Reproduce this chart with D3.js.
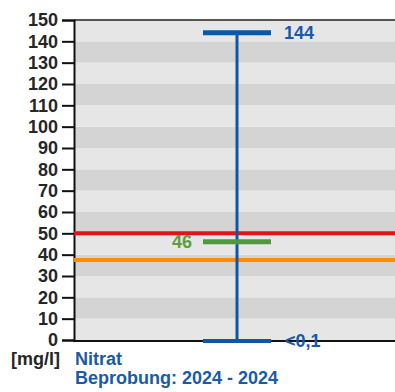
<!DOCTYPE html>
<html>
<head>
<meta charset="utf-8">
<script src="https://cdn.jsdelivr.net/npm/d3@7"></script>
<style>
  html, body { margin: 0; padding: 0; background: #fff; }
  svg { display: block; font-family: "Liberation Sans", Arial, sans-serif; font-weight: bold; }
</style>
</head>
<body>
<svg id="chart" width="395" height="392"></svg>
<script>
// Measurement: Nitrat, sampling period 2024
const categories = ["Nitrat"];
const maxValues = [144];
const maxLabels = ["144"];
const minValues = [0];
const minLabels = ["<0,1"];
const meanValues = [46];
const meanLabels = ["46"];
const limitValue = 50;      // Grenzwert
const warnValue = 37.5;     // Schwellenwert
const yTicks = d3.range(0, 151, 10);
const unitLabel = "[mg/l]";
const periodLabel = "Beprobung: 2024 - 2024";

const svg = d3.select("#chart");
const plotLeft = 74, plotRight = 400, plotTop = 20, plotBottom = 340;

const y = d3.scaleLinear().domain([0, 150]).range([plotBottom, plotTop]);
const x = d3.scaleBand().domain(categories).range([plotLeft, plotRight]);
const capW = 68;

const blue = "#0b59a6";
const textDark = "#262626";

// alternating background bands, 10 units each
const bands = d3.range(0, 150, 10);
svg.append("g").selectAll("rect").data(bands).join("rect")
  .attr("x", plotLeft)
  .attr("width", plotRight - plotLeft)
  .attr("y", d => y(d + 10))
  .attr("height", d => y(d) - y(d + 10))
  .attr("fill", d => ((150 - d) / 10 - 1) % 2 === 0 ? "#e6e6e6" : "#d4d4d4");

// top frame line
svg.append("line")
  .attr("x1", plotLeft).attr("x2", plotRight)
  .attr("y1", y(150)).attr("y2", y(150))
  .attr("stroke", "#555").attr("stroke-width", 2);

// y axis
const yAxis = d3.axisLeft(y).tickValues(yTicks).tickSize(12).tickPadding(4).tickFormat(d3.format("d"));
const gy = svg.append("g").attr("transform", `translate(${plotLeft},0)`).call(yAxis);
gy.select(".domain").attr("stroke", "#111").attr("stroke-width", 2);
gy.selectAll(".tick line").attr("stroke", "#111").attr("stroke-width", 2);
gy.selectAll(".tick text")
  .attr("fill", textDark)
  .style("font-size", "18px")
  .style("font-weight", "bold")
  .style("font-family", "'Liberation Sans', Arial, sans-serif");

// threshold lines
svg.append("line")
  .attr("x1", plotLeft).attr("x2", plotRight)
  .attr("y1", y(limitValue)).attr("y2", y(limitValue))
  .attr("stroke", "#e5121b").attr("stroke-width", 4);
svg.append("line")
  .attr("x1", plotLeft).attr("x2", plotRight)
  .attr("y1", y(warnValue)).attr("y2", y(warnValue))
  .attr("stroke", "#ff8c00").attr("stroke-width", 4);

// bottom axis line
svg.append("line")
  .attr("x1", plotLeft - 1).attr("x2", plotRight)
  .attr("y1", y(0) + 1).attr("y2", y(0) + 1)
  .attr("stroke", "#111").attr("stroke-width", 2);

// range whisker: min to max, with mean marker
const g = svg.append("g");
categories.forEach((c, i) => {
  const cx = x(c) + x.bandwidth() / 2;
  g.append("line")
    .attr("x1", cx).attr("x2", cx)
    .attr("y1", y(maxValues[i])).attr("y2", y(minValues[i]))
    .attr("stroke", blue).attr("stroke-width", 3);
  g.append("line")
    .attr("x1", cx - capW / 2).attr("x2", cx + capW / 2)
    .attr("y1", y(maxValues[i])).attr("y2", y(maxValues[i]))
    .attr("stroke", blue).attr("stroke-width", 5);
  g.append("line")
    .attr("x1", cx - capW / 2).attr("x2", cx + capW / 2)
    .attr("y1", y(minValues[i]) + 1).attr("y2", y(minValues[i]) + 1)
    .attr("stroke", blue).attr("stroke-width", 4);
  g.append("line")
    .attr("x1", cx - capW / 2).attr("x2", cx + capW / 2)
    .attr("y1", y(meanValues[i])).attr("y2", y(meanValues[i]))
    .attr("stroke", "#4c9a3c").attr("stroke-width", 5);

  g.append("text")
    .attr("x", cx + capW / 2 + 13).attr("y", y(maxValues[i])).attr("dy", "0.35em")
    .attr("fill", "#1a5aa6").style("font-size", "18px")
    .text(maxLabels[i]);
  g.append("text")
    .attr("x", cx + capW / 2 + 14).attr("y", y(minValues[i]) + 1).attr("dy", "0.35em")
    .attr("fill", "#1a5aa6").style("font-size", "18px")
    .text(minLabels[i]);
  g.append("text")
    .attr("x", cx - capW / 2 - 11).attr("y", y(meanValues[i])).attr("dy", "0.35em")
    .attr("text-anchor", "end")
    .attr("fill", "#5f9e3e").style("font-size", "18px")
    .text(meanLabels[i]);
});

// captions
svg.append("text")
  .attr("x", 60).attr("y", 365).attr("text-anchor", "end")
  .attr("fill", textDark).style("font-size", "18px")
  .text(unitLabel);
svg.append("text")
  .attr("x", 75).attr("y", 365)
  .attr("fill", "#1a5aa6").style("font-size", "18px")
  .text(categories[0]);
svg.append("text")
  .attr("x", 75).attr("y", 384)
  .attr("fill", "#1a5aa6").style("font-size", "18px")
  .text(periodLabel);
</script>
</body>
</html>
